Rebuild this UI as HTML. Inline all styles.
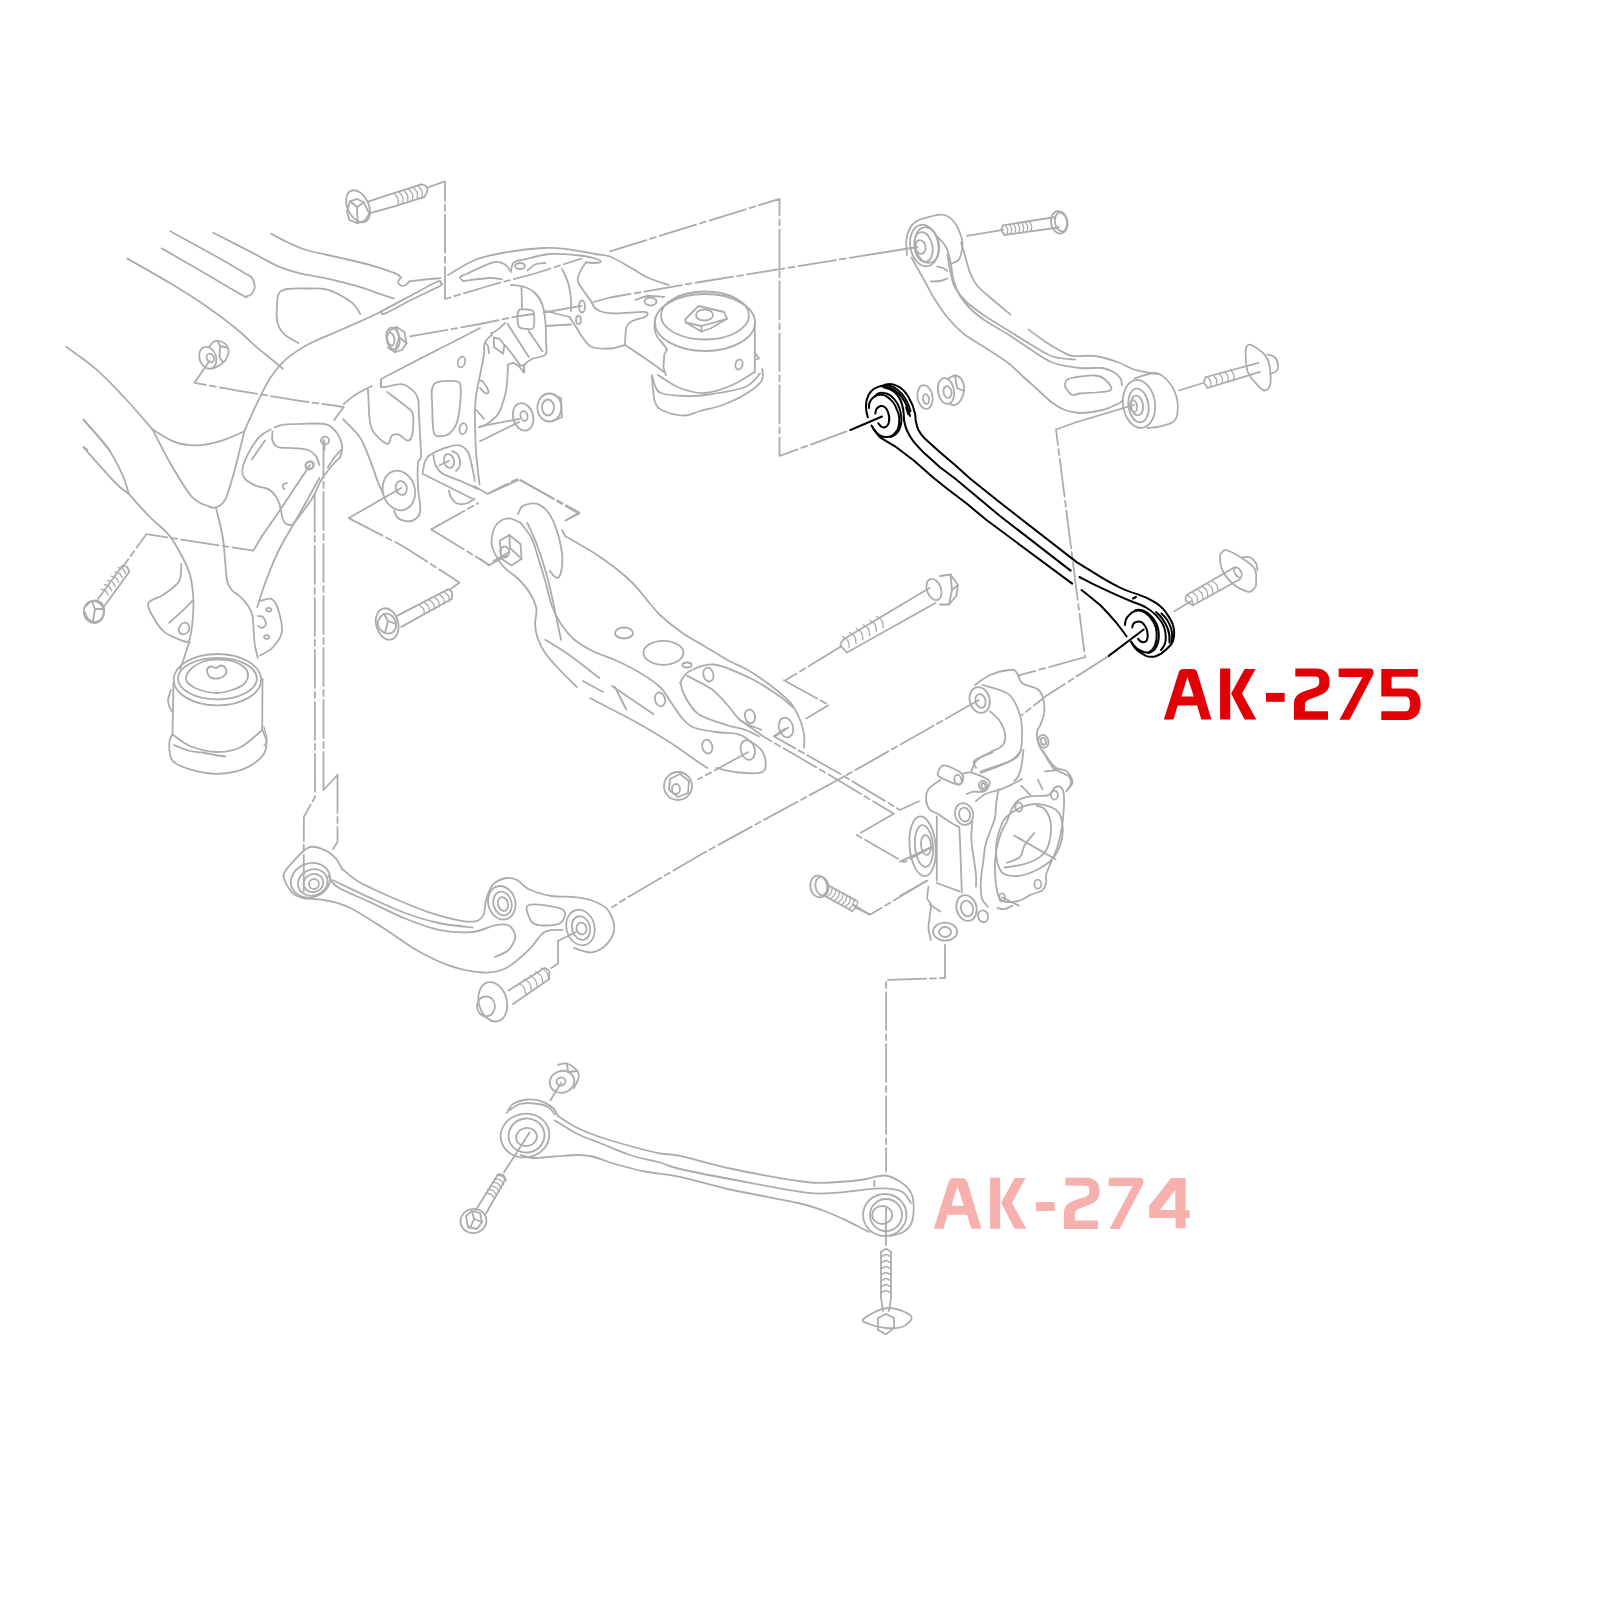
<!DOCTYPE html>
<html><head><meta charset="utf-8"><style>
html,body{margin:0;padding:0;background:#fff;}
body{width:1600px;height:1600px;overflow:hidden;font-family:"Liberation Sans",sans-serif;}
svg{display:block;}
.d{stroke-dasharray:38 4 6 4;}
.t{stroke-width:1.3;}
</style></head><body>
<svg width="1600" height="1600" viewBox="0 0 1600 1600">
<g fill="none" stroke="#acacac" stroke-width="1.8" stroke-linecap="round" stroke-linejoin="round">
<path d="M170.3,231.3 C176.9,234.9 197.5,246 210,253 C222.5,260 238.3,269.2 245.3,273.4 C252.3,277.6 250.4,275.6 252,278 C253.6,280.4 254.9,284.8 254.7,287.5 C254.5,290.2 252.3,293.1 251,294.5 C249.7,295.9 248.4,296 246.9,296.1 C245.4,296.2 249.7,299.2 242,295 C234.3,290.8 214.4,278.8 201,271 C187.6,263.2 168.2,252.2 161.7,248.4"/>
<path d="M127.3,258.6 C134.4,262.7 156.8,275.1 170,283 C183.2,290.9 195.1,298.5 206.3,306.3 C217.6,314.1 229.2,322.9 237.5,329.7 C245.8,336.5 250.9,342.2 256.3,346.9 C261.7,351.6 265.6,354.4 270,358 C274.4,361.6 280.7,366.9 282.8,368.7"/>
<path d="M213.3,232.8 C219.9,236.2 242.5,247.6 253.1,253.1 C263.6,258.6 268.8,262.2 276.6,265.6 C284.4,269 291.9,271.3 300,273.4 C308.1,275.5 315.6,276 325,278.1 C334.4,280.2 347.2,283.3 356.3,285.9 C365.4,288.5 373.4,291.7 379.7,293.8 C385.9,295.9 391.4,297.6 393.8,298.4"/>
<path d="M271.1,233.6 C273.8,235 281.6,239.5 287.5,242.2 C293.4,244.9 297.4,247.4 306.3,250 C315.2,252.6 329.7,255.2 340.6,257.8 C351.5,260.4 362.8,263 371.9,265.6 C381,268.2 390.4,271.4 395.3,273.4 C400.2,275.4 400.1,276.8 401,277.5"/>
<path d="M401,277.5 C400.5,278.2 398.4,280.2 398.2,281.5 C398,282.8 398.9,284.3 400,285 C401.1,285.7 403.4,286.1 405,285.5 C406.6,284.9 408.7,282 409.4,281.3"/>
<path d="M409.4,281.3 L425,279.5 L440.6,278.1"/>
<path d="M298.4,343 C296.1,341.6 287.9,337.9 284.4,334.4 C280.9,330.9 278.5,327.6 277.3,321.9 C276.1,316.2 276.9,305 277.3,300 C277.8,295 278.3,293.8 280,292 C281.7,290.2 283.3,289.6 287.5,289 C291.7,288.4 298.2,288.4 305,288.5 C311.8,288.6 320.9,287.9 328.1,289.8 C335.3,291.7 343.8,297.1 348.4,300 C353,302.9 354,304.7 356,307 C358,309.3 359.5,312.8 360.2,314"/>
<path d="M381.3,311.4 C386.1,308.8 400.6,301 410,296 C419.4,291 432.4,283.6 437.5,281.5 C442.6,279.4 440.1,282.6 440.5,283.3 C440.9,284.1 444.9,283.1 439.8,286 C434.7,288.9 419.2,295.9 410,300.5 C400.8,305.1 389.4,311.8 384.6,313.6 C379.8,315.4 381.9,311.8 381.3,311.4"/>
<path d="M381.3,311.4 C379.4,312.3 376.8,313.9 370,317 C363.2,320.1 350.7,325.5 340.6,330 C330.5,334.5 318.5,338.9 309.4,343.8 C300.3,348.7 292.4,353.7 285.9,359.4 C279.4,365.1 274.7,371.5 270.3,378 C265.9,384.5 263,391.1 259.4,398.4 C255.7,405.7 250.9,416.4 248.4,421.9 C245.9,427.4 245.1,429.7 244.4,431.3"/>
<path d="M480,328 C475,330.6 460.2,338.3 450,343.5 C439.8,348.7 430.3,353.5 418.8,359.4 C407.3,365.3 387.4,375.7 381.1,379"/>
<path d="M381.1,379 L381.1,387.3"/>
<path d="M371.9,386 C369.1,387.5 359.7,392 355,395 C350.3,398 345.7,402.5 343.8,404"/>
<path d="M66.3,346.9 C71.3,350.6 86.6,361 96.3,369.4 C106,377.8 115,387.5 124.4,397.5 C133.8,407.5 147.8,424.1 152.5,429.4"/>
<path d="M152.5,429.4 C156.2,431.5 167.3,439.5 175,442.2 C182.7,444.9 190.6,445.6 198.4,445.3 C206.2,445 214.2,442.9 221.9,440.6 C229.6,438.3 240.7,432.9 244.4,431.3"/>
<path d="M83.6,419.5 C86.6,423 97.3,435.5 101.6,440.6 C105.9,445.7 108.1,448.4 109.4,450"/>
<path d="M83.6,447 L87.5,450"/>
<ellipse cx="207.8" cy="357.8" rx="8.3" ry="11.2" transform="rotate(-20 207.8 357.8)"/>
<ellipse cx="210.3" cy="358" rx="3.5" ry="4.5" transform="rotate(-20 210.3 358)"/>
<path d="M209,347 C209.8,346.1 212,342.4 214,341.5 C216,340.6 218.8,340.8 221,341.5 C223.2,342.2 225.8,344.2 227,346 C228.2,347.8 228.8,350.2 228.5,352.5 C228.2,354.8 226.9,357.9 225.5,360 C224.1,362.1 222.1,363.6 220,365 C217.9,366.4 214.2,367.9 213,368.5"/>
<path d="M218,341.8 L220,346 L226.5,347.5"/>
<path d="M220,346 L219.5,357 L223,362.5"/>
<path class="d" d="M209.4,361 L194.5,382.8 L237.5,390.6 L300,400.8 L343.8,407 L332.8,421.9"/>
<ellipse cx="934" cy="589.5" rx="7" ry="11" transform="rotate(-20 934 589.5)"/>
<path d="M940,576 L950.5,574.5 L958,585 L956.5,595.5 L949,604.5 L940,604.5"/>
<path d="M950.5,574.5 L952,590 L958,585"/>
<path d="M952,590 L949,604.5"/>
<path d="M929.5,588 L844,639"/>
<path d="M935.5,603 L847,652.5"/>
<path d="M844,639 C843.4,640 840,642.8 840.5,645 C841,647.2 845.9,651.2 847,652.5"/>
<path class="t" d="M849.3,647.6 C849.1,646.5 849.1,642.7 848,640.8 C846.9,639 843.6,637.1 842.7,636.4"/>
<path class="t" d="M856.1,643.6 C855.9,642.5 855.9,638.7 854.8,636.8 C853.7,635 850.4,633.1 849.5,632.4"/>
<path class="t" d="M862.9,639.6 C862.7,638.5 862.7,634.7 861.6,632.8 C860.5,631 857.2,629.1 856.3,628.4"/>
<path class="t" d="M869.7,635.6 C869.5,634.5 869.5,630.7 868.4,628.8 C867.3,627 864,625.1 863.1,624.4"/>
<path class="t" d="M876.5,631.6 C876.3,630.5 876.3,626.7 875.2,624.8 C874.1,623 870.8,621.1 869.9,620.4"/>
<path class="t" d="M883.3,627.6 C883.1,626.5 883.1,622.7 882,620.8 C880.9,619 877.6,617.1 876.7,616.4"/>
<path class="d" d="M841,646.5 L785.5,680.3"/>
<path d="M1174.3,611.3 L1191.5,601.1"/>
<path d="M1187,594.8 L1235,567"/>
<path d="M1193,605.3 L1240.3,579"/>
<path d="M1187,594.8 C1186.8,595.7 1184.5,598.2 1185.5,600 C1186.5,601.8 1191.8,604.4 1193,605.3"/>
<path class="t" d="M1192.9,605.2 C1192.7,604.2 1192.8,600.7 1191.8,599 C1190.9,597.2 1187.9,595.5 1187.1,594.8"/>
<path class="t" d="M1197.9,602.4 C1197.7,601.4 1197.8,597.9 1196.8,596.2 C1195.9,594.4 1192.9,592.7 1192.1,592"/>
<path class="t" d="M1202.9,599.6 C1202.7,598.6 1202.8,595.1 1201.8,593.4 C1200.9,591.6 1197.9,589.9 1197.1,589.2"/>
<path class="t" d="M1207.9,596.8 C1207.7,595.8 1207.8,592.3 1206.8,590.6 C1205.9,588.8 1202.9,587.1 1202.1,586.4"/>
<path class="t" d="M1212.9,594 C1212.7,593 1212.8,589.5 1211.8,587.8 C1210.9,586 1207.9,584.3 1207.1,583.6"/>
<path class="t" d="M1217.9,591.2 C1217.7,590.2 1217.8,586.7 1216.8,585 C1215.9,583.2 1212.9,581.5 1212.1,580.8"/>
<ellipse cx="1238" cy="572.5" rx="3" ry="5.5" transform="rotate(-30 1238 572.5)"/>
<path d="M1221.5,552.8 C1222.8,551.8 1223.4,549.1 1227.5,550.5 C1231.6,551.9 1241.7,557.8 1246.3,561 C1250.9,564.2 1253.7,566 1255.3,570 C1256.9,574 1256.2,581.9 1256,585 C1255.8,588.1 1255,587.7 1253.8,588.8 C1252.5,589.9 1251.9,592.5 1248.5,591.8 C1245.1,591 1237.9,587.9 1233.5,584.3 C1229.1,580.7 1224.5,574.6 1222.3,570 C1220,565.4 1220.1,559.4 1220,556.5 C1219.9,553.6 1220.2,553.8 1221.5,552.8 Z"/>
<path d="M1242.5,557.3 C1243.8,557.3 1247.8,556.3 1250,557.3 C1252.2,558.3 1254.8,561.2 1256,563.3 C1257.2,565.4 1257.2,568.9 1257.5,570"/>
<ellipse cx="818.8" cy="886.5" rx="8.5" ry="11" transform="rotate(-10 818.8 886.5)"/>
<ellipse cx="822" cy="886.3" rx="6.5" ry="9.5" transform="rotate(-10 822 886.3)"/>
<path d="M827.5,885 L856.3,900.6"/>
<path d="M823,895 L852.5,911.3"/>
<path class="t" d="M823.3,894.8 C824,894.1 826.6,892.4 827.4,890.8 C828.3,889.2 828.5,886.1 828.7,885.2"/>
<path class="t" d="M827,896.8 C827.7,896.1 830.2,894.4 831.1,892.8 C832,891.2 832.1,888.1 832.3,887.2"/>
<path class="t" d="M830.6,898.8 C831.3,898.1 833.8,896.4 834.7,894.8 C835.6,893.2 835.7,890.1 835.9,889.2"/>
<path class="t" d="M834.2,900.8 C834.9,900.1 837.4,898.4 838.3,896.8 C839.2,895.2 839.3,892.1 839.5,891.2"/>
<path class="t" d="M837.8,902.8 C838.5,902.1 841.1,900.4 841.9,898.8 C842.8,897.2 843,894.1 843.2,893.2"/>
<path class="t" d="M841.5,904.8 C842.2,904.1 844.7,902.4 845.6,900.8 C846.5,899.2 846.6,896.1 846.8,895.2"/>
<path class="t" d="M845.1,906.8 C845.8,906.1 848.3,904.4 849.2,902.8 C850.1,901.2 850.2,898.1 850.4,897.2"/>
<path class="t" d="M848.7,908.8 C849.4,908.1 851.9,906.4 852.8,904.8 C853.7,903.2 853.8,900.1 854,899.2"/>
<path class="t" d="M852.3,910.8 C853,910.1 855.6,908.4 856.4,906.8 C857.3,905.2 857.5,902.1 857.7,901.2"/>
<path d="M854.4,906.9 L869.4,914.4"/>
<path d="M83.6,420 C87.6,424.6 101,438.3 107.5,447.5 C114,456.7 119,467.3 122.5,475 C126,482.7 127.8,490.7 128.8,493.8"/>
<path d="M83.6,447.5 C88.8,453.3 107.5,474.8 115,482.5 C122.5,490.2 126.5,491.9 128.8,493.8"/>
<path d="M128.8,493.8 C132.1,497.4 141.9,508.9 148.4,515.6 C154.9,522.3 162.6,527.6 168.1,534.2 C173.6,540.8 177.7,548.2 181.3,555 C185,561.8 188,567.4 190,574.7 C192,582 192.9,590.4 193.3,598.8 C193.7,607.2 192.9,617.7 192.2,625 C191.5,632.3 190.4,636.7 188.9,642.5 C187.4,648.3 184.9,655.6 183.4,660 C181.9,664.4 180.7,667.3 180.2,668.8"/>
<path d="M152.5,429.4 C155.6,435.3 164.7,453.8 171.3,465 C177.9,476.2 185.7,490 191.9,496.9 C198.2,503.8 204.7,504.6 208.8,506.3 C212.9,508 213.5,508.4 216.3,507.2 C219.1,505.9 222.5,505.2 225.6,498.8 C228.7,492.4 231.9,480.1 235,468.8 C238.1,457.6 242.8,437.6 244.4,431.3"/>
<path d="M216.3,509 C217.4,513.8 221.4,529.1 222.8,537.5 C224.2,545.9 224.3,552.1 225,559.4 C225.7,566.7 226.1,576.2 227.2,581.3 C228.3,586.4 229,587.1 231.6,590 C234.2,592.9 239.2,595.1 242.5,598.8 C245.8,602.4 249.5,607.5 251.3,611.9 C253.1,616.3 252.9,619.9 253.4,625 C253.9,630.1 253.8,637 254.5,642.5 C255.2,648 257.2,655.2 257.8,657.8"/>
<path d="M319.4,478 C316.2,483.8 306.6,501.3 300,513 C293.4,524.7 285.5,537.2 280,548 C274.5,558.8 270.8,568.1 267,578 C263.2,587.9 258.8,602.3 257.2,607.2"/>
<path d="M270.6,429.4 C268.7,430.6 263.1,432.8 259.4,436.9 C255.6,441 250.9,448.5 248.1,453.8 C245.3,459.1 243.1,464.8 242.5,468.8 C241.9,472.9 242.2,475.3 244.4,478.1 C246.6,480.9 251.5,483.7 255.6,485.6 C259.7,487.5 265.4,487.5 268.8,489.4 C272.2,491.3 274.4,494.1 276.3,496.9 C278.2,499.7 278.8,502.2 280,506.3 C281.2,510.4 281.9,518.2 283.8,521.3 C285.7,524.4 289.1,525.3 291.3,525 C293.5,524.7 293.5,523.8 296.9,519.4 C300.3,515 307.8,505.4 311.9,498.8 C316,492.2 317.9,485.6 321.3,480 C324.7,474.4 329.4,468.8 332.5,465 C335.6,461.2 338.8,458.8 340,457.5"/>
<path d="M272.5,431.3 C272.5,432.9 271.6,438 272.5,440.6 C273.4,443.2 274.7,445.9 278.1,447.2 C281.5,448.4 288.1,447.6 293.1,448.1 C298.1,448.6 304.4,448.8 308.1,450 C311.9,451.2 313.7,453.1 315.6,455.6 C317.5,458.1 318.8,463.4 319.4,465"/>
<path d="M251.9,459.4 L265,440.6"/>
<path d="M341,450 C339.8,451.3 336.2,455.1 334,458 C331.8,460.9 328.8,465.9 327.8,467.5"/>
<path d="M287,483 C286.5,483.2 284.6,483.3 283.8,484 C283.1,484.7 282.4,486.2 282.5,487 C282.6,487.8 284.2,488.7 284.5,489"/>
<ellipse cx="310" cy="465" rx="4" ry="3.5" transform="rotate(-30 310 465)"/>
<path d="M310,465 L276.3,515.6 L262,536"/>
<path class="d" d="M262,536 L253.4,550.6 L146.3,534.2 L122,568"/>
<ellipse cx="93.8" cy="612" rx="10" ry="11" transform="rotate(-10 93.8 612)"/>
<path d="M86,606 C87,605.2 89.7,601.7 92,601 C94.3,600.3 98,600.7 100,602 C102,603.3 103.7,606.3 104,609 C104.3,611.7 103.5,615.8 102,618 C100.5,620.2 97.3,621.8 95,622 C92.7,622.2 89.7,620.7 88,619 C86.3,617.3 85.5,613.2 85,612"/>
<path d="M92,601 L95,609 L104,609"/>
<path d="M95,609 L93,621"/>
<path d="M98,599 L122.5,565.5 L127,567 L129.5,571.5 L104,606.5"/>
<path class="t" d="M108.2,595 C107.8,594.3 106.8,591.7 105.6,590.7 C104.3,589.7 101.6,589.3 100.8,589"/>
<path class="t" d="M111.7,590.7 C111.3,590 110.3,587.4 109.1,586.4 C107.8,585.4 105.1,585 104.3,584.7"/>
<path class="t" d="M115.2,586.4 C114.8,585.7 113.8,583.1 112.6,582.1 C111.3,581.1 108.6,580.7 107.8,580.4"/>
<path class="t" d="M118.7,582.1 C118.3,581.4 117.3,578.8 116.1,577.8 C114.8,576.8 112.1,576.4 111.3,576.1"/>
<path class="t" d="M122.2,577.8 C121.8,577.1 120.8,574.5 119.6,573.5 C118.3,572.5 115.6,572.1 114.8,571.8"/>
<path class="t" d="M125.7,573.5 C125.3,572.8 124.3,570.2 123.1,569.2 C121.8,568.2 119.1,567.8 118.3,567.5"/>
<path d="M181.3,563.8 C180.9,566.7 181.9,576.2 179,581.3 C176.1,586.4 168.9,590.8 163.8,594.4 C158.7,598 150.2,599.5 148.4,603.1 C146.6,606.8 150.2,611.5 152.8,616.3 C155.4,621 159.1,627.6 163.8,631.6 C168.6,635.6 176.9,638.5 181.3,640.3 C185.7,642.1 188.6,642.1 190,642.5"/>
<path d="M169.2,622.8 C171.2,621 177.5,615.5 181.3,611.9 C185.1,608.3 190.4,602.8 192.2,601"/>
<path d="M179,628 C179.5,626.3 181.5,623.7 183,623 C184.5,622.3 187,622.8 188,624 C189,625.2 189.5,628.3 189,630 C188.5,631.7 186.5,633.5 185,634 C183.5,634.5 181,634 180,633 C179,632 178.5,629.7 179,628 Z"/>
<path d="M260,601 C261.8,600.6 268.1,597.7 271,598.8 C273.9,599.9 275.7,602 277.5,607.5 C279.3,613 282.6,625 281.9,631.6 C281.2,638.2 276.8,643 273.1,647 C269.5,651 262.2,654.2 260,655.6"/>
<ellipse cx="268.8" cy="609.7" rx="2.5" ry="1.8"/>
<ellipse cx="266.6" cy="637" rx="2.5" ry="1.8"/>
<path d="M258,616 C258.8,616.2 261.7,615.7 263,617 C264.3,618.3 266.2,622.2 266,624 C265.8,625.8 263.3,627.7 262,628 C260.7,628.3 258.7,626.3 258,626"/>
<ellipse cx="217.4" cy="679.7" rx="43.7" ry="25.7"/>
<ellipse cx="217.4" cy="678.6" rx="39.4" ry="20.8"/>
<path d="M186,678 C186.5,675.3 188.8,670.8 192,668 C195.2,665.2 200.8,662.4 205,661 C209.2,659.6 212.5,659.5 217,659.5 C221.5,659.5 227.5,659.8 232,661 C236.5,662.2 241.3,664.7 244,667 C246.7,669.3 248,672.2 248,675 C248,677.8 246.7,681.5 244,684 C241.3,686.5 236.5,688.5 232,690 C227.5,691.5 222.3,693 217,693 C211.7,693 204.7,691.5 200,690 C195.3,688.5 191.3,686 189,684 C186.7,682 185.5,680.7 186,678 Z"/>
<path d="M207,670 C207.2,668.2 209.5,666.8 211,666.5 C212.5,666.2 214.3,668.2 216,668 C217.7,667.8 219.3,665.3 221,665.5 C222.7,665.7 225.3,667.4 226,669 C226.7,670.6 226.3,673.4 225,675 C223.7,676.6 220.5,678.2 218,678.5 C215.5,678.8 211.8,678.4 210,677 C208.2,675.6 206.8,671.8 207,670 Z"/>
<path d="M173.5,683 L172.5,734.4"/>
<path d="M262.5,679 L262.2,730"/>
<path d="M172.5,734.4 C175.4,736.3 182.7,743.1 190,746 C197.3,748.9 208,751.8 216.3,752 C224.6,752.2 232.3,751.2 240,747.5 C247.7,743.8 258.5,732.9 262.2,730"/>
<path d="M172.5,734.4 C171.9,735.8 169.2,738.6 169.2,743 C169.2,747.4 169,756.2 172.5,760.6 C176,765 182.7,767.2 190,769.4 C197.3,771.6 207.6,773.8 216.3,773.8 C225.1,773.8 234.8,772.3 242.5,769.4 C250.2,766.5 258.2,760.7 262.2,756.3 C266.2,751.9 266.5,747.2 266.6,743 C266.7,738.8 263.6,733 263,731"/>
<path d="M174,745 C176.7,746 184.8,749.7 190,751 C195.2,752.3 200.8,752.3 205,753 C209.2,753.7 211.7,754.4 215,755 C218.3,755.6 223.3,756.2 225,756.5"/>
<path d="M171,690 C170.5,691.7 168.2,697 168,700 C167.8,703 169.2,706 170,708 C170.8,710 172.1,711.3 172.5,712"/>
<path class="t" d="M264,727 C264.5,729.2 267,736.8 267,740 C267,743.2 264.5,745 264,746"/>
<path class="d" d="M314.7,493.8 L315,797 L303.8,817 L303.8,891"/>
<path class="d" d="M323.5,440 L323.5,790"/>
<path d="M323.5,790 L337.5,775"/>
<path class="d" d="M337.5,775 L337.5,842 L333,849"/>
<path d="M274.4,427.5 C276,427 279.1,425.3 283.8,424.7 C288.5,424.1 295.4,423.9 302.5,423.8 C309.6,423.8 320.5,422.7 326.3,424.4 C332.1,426.1 334.9,430.1 337.5,433.8 C340.1,437.6 341.8,442.9 342.2,446.9 C342.6,450.8 340.4,455.7 340,457.5"/>
<ellipse cx="325" cy="440.6" rx="4" ry="4"/>
<ellipse cx="309.4" cy="465.6" rx="4" ry="4"/>
<path d="M324.4,441.3 L324.4,450"/>
<ellipse cx="398.9" cy="490.5" rx="16" ry="20" transform="rotate(-15 398.9 490.5)"/>
<ellipse cx="401.3" cy="488" rx="5.5" ry="7" transform="rotate(-15 401.3 488)"/>
<path d="M401.3,488 L348.8,518"/>
<path class="d" d="M348.8,518.1 L403.1,546.3 L450,576.3 L459.4,582.8 L450,589.4"/>
<path d="M369.2,415.6 C369.8,418.2 369.8,426.3 372.8,431 C375.8,435.7 383.8,443.2 387,444 C390.2,444.8 389.8,437.4 391.8,435.8 C393.8,434.2 396.3,433.8 398.9,434.6 C401.5,435.4 405,440.4 407.2,440.6 C409.4,440.8 411,440 412,435.8 C413,431.6 413.9,420.4 413.1,415.6 C412.3,410.9 411.6,411.2 407.2,407.3 C402.8,403.4 390.4,394.5 387,391.9"/>
<path d="M368,389.5 L369.2,415.6"/>
<path d="M381,380 C381.2,381.2 378.9,386.3 382.3,387 C385.7,387.7 396.2,383.6 401.3,384.2 C406.4,384.8 410.3,388.2 413.1,390.7 C415.9,393.2 417,394.9 418,399 C419,403.1 418.6,408.9 419,415.6 C419.4,422.3 420,432.5 420.3,439.4 C420.6,446.3 421.4,453.3 421,457.2 C420.6,461.1 418.5,458 418,463 C417.5,468 417.6,479.1 418,487 C418.4,494.9 420.7,505.3 420.3,510.6 C419.9,515.9 417.7,517.2 415.5,519 C413.3,520.8 410.2,521.5 407.2,521.3 C404.2,521.1 399.9,519.6 397.7,517.8 C395.5,516 394.6,511.8 394,510.6"/>
<path d="M433.3,429.9 C432.5,424.6 432.3,410.5 432.1,403.8 C431.9,397.1 431.2,393.1 432,389.5 C432.8,385.9 433,383.8 437,382.4 C441,381 452,380.4 455.9,381.2 C459.8,382 460,382.4 460.6,387.1 C461.2,391.9 460.3,403.4 459.5,409.7 C458.7,416 457.9,421 455.9,425.1 C453.9,429.2 450.8,432.8 447.6,434.6 C444.4,436.4 439.3,436.6 436.9,435.8 C434.5,435 434.1,435.2 433.3,429.9 Z"/>
<ellipse cx="463.1" cy="428.7" rx="3.5" ry="5.5" transform="rotate(10 463.1 428.7)"/>
<path d="M422.6,472.6 C423.6,469.8 423.2,460.6 428.6,456 C434,451.4 448.4,446.3 454.7,445.3 C461,444.3 463.8,447.1 466.6,450 C469.4,452.9 469.9,457.8 471.3,463 C472.7,468.2 474.3,478 474.9,481"/>
<path d="M422.6,473.8 L472.5,498.8"/>
<ellipse cx="449" cy="461" rx="5" ry="7" transform="rotate(-15 449 461)"/>
<path d="M452,451 C453,451.7 456.7,452.7 458,455 C459.3,457.3 460.3,462.3 460,465 C459.7,467.7 456.7,470 456,471"/>
<path d="M448.8,460.8 L439.3,465.5"/>
<path d="M433.3,454.8 C433.7,456.6 434.1,462.3 435.7,465.5 C437.3,468.7 438.6,471.2 442.8,473.8 C447,476.4 454.7,478.4 460.6,481 C466.6,483.6 475.5,487.9 478.5,489.3"/>
<path d="M448.8,490.5 C449.2,491.7 449.7,495.4 451.1,497.6 C452.5,499.8 454.5,502.5 457.1,503.5 C459.7,504.5 463.6,504.3 466.6,503.5 C469.6,502.7 473.5,499.6 474.9,498.8"/>
<path d="M343,419.2 C345.8,422.2 355.1,430.1 359.7,437 C364.3,443.9 367.4,453.5 370.4,460.8 C373.4,468.1 375.3,475.5 377.5,481 C379.7,486.5 382.4,491.8 383.4,494"/>
<path d="M480,426.3 L519,419"/>
<path d="M480,441.3 L519,422"/>
<ellipse cx="523.1" cy="416.9" rx="10" ry="14" transform="rotate(-15 523.1 416.9)"/>
<ellipse cx="524" cy="416" rx="3.5" ry="5" transform="rotate(-15 524 416)"/>
<ellipse cx="549.4" cy="407.5" rx="12" ry="14"/>
<ellipse cx="548" cy="407.5" rx="6" ry="8"/>
<path d="M552,394 L561,398 L562,417 L553,421"/>
<path class="d" d="M431.3,529.4 L478.1,503.1"/>
<path class="d" d="M431.3,529.4 L489.4,565 L506.3,555.6"/>
<path class="d" d="M474.4,486.3 L487.5,493.8 L517.5,478.8 L579.4,512.5 L566.3,520"/>
<ellipse cx="387.2" cy="624" rx="11" ry="16" transform="rotate(-15 387.2 624)"/>
<path d="M378,621 C378.8,618.7 381.7,614.8 384,614 C386.3,613.2 390,614.3 392,616 C394,617.7 395.8,621.3 396,624 C396.2,626.7 394.8,630.5 393,632 C391.2,633.5 387.3,633.7 385,633 C382.7,632.3 380.2,630 379,628 C377.8,626 377.2,623.3 378,621 Z"/>
<path d="M384,614 L388,621 L396,624"/>
<path d="M388,621 L385,633"/>
<path d="M397.5,615.6 L448,589.4"/>
<path d="M401.3,626.9 L451.9,598.8"/>
<path d="M448,589.4 C448.7,589.8 451.4,590.4 452,592 C452.6,593.6 451.9,597.7 451.9,598.8"/>
<path class="t" d="M424.4,614.7 C424.3,613.8 424.5,610.7 423.6,609.1 C422.8,607.6 420.2,605.9 419.6,605.3"/>
<path class="t" d="M429.4,612.1 C429.3,611.2 429.5,608.1 428.6,606.5 C427.8,605 425.2,603.3 424.6,602.7"/>
<path class="t" d="M434.4,609.5 C434.3,608.6 434.5,605.5 433.6,603.9 C432.8,602.4 430.2,600.7 429.6,600.1"/>
<path class="t" d="M439.4,606.9 C439.3,606 439.5,602.9 438.6,601.3 C437.8,599.8 435.2,598.1 434.6,597.5"/>
<path class="t" d="M444.4,604.3 C444.3,603.4 444.5,600.3 443.6,598.7 C442.8,597.2 440.2,595.5 439.6,594.9"/>
<path class="t" d="M449.4,601.7 C449.3,600.8 449.5,597.7 448.6,596.1 C447.8,594.6 445.2,592.9 444.6,592.3"/>
<path d="M520.5,522.8 C518.6,522 513,518.3 509.3,518.3 C505.6,518.3 500.8,520.2 498,522.8 C495.2,525.4 493.3,529.9 492.4,534 C491.5,538.1 490.7,542.2 492.4,547.5 C494.1,552.8 498.2,560.2 502.5,565.5 C506.8,570.8 513.8,574.5 518.3,579 C522.8,583.5 526.5,587.6 529.5,592.5 C532.5,597.4 535.4,603 536.3,608.3 C537.2,613.5 534.9,619.1 535.1,624 C535.3,628.9 535.7,632.6 537.4,637.5 C539.1,642.4 541.7,648 545.3,653.3 C548.9,658.5 553.5,663.4 558.8,669 C564,674.6 573.8,684 576.8,687"/>
<path d="M590.3,698.3 C598.2,702.4 624,715.5 637.5,723 C651,730.5 661.9,737.3 671.3,743.3 C680.7,749.3 687.8,754.9 693.8,759 C699.8,763.1 705,766.5 707.3,768"/>
<path d="M518,514 C518.8,512.6 519.8,507.6 522.8,505.9 C525.8,504.2 532.2,502.7 536.3,503.6 C540.4,504.5 544.1,507.2 547.5,511.5 C550.9,515.8 554.1,522.4 556.5,529.5 C558.9,536.6 561.4,547.2 562.1,554.3 C562.9,561.4 561.9,568.4 561,572.3 C560.1,576.2 558.4,578.1 556.5,577.9 C554.6,577.7 550.9,572.1 549.8,571"/>
<path d="M565.5,536.3 C570,538.9 584.2,546.8 592.5,552 C600.8,557.2 608.2,562.5 615,567.8 C621.8,573 627.8,578.2 633,583.5 C638.2,588.8 642,594 646.5,599.3 C651,604.5 654,609.4 660,615 C666,620.6 675,627.8 682.5,633 C690,638.2 697.5,642 705,646.5 C712.5,651 720,655.9 727.5,660 C735,664.1 742.5,666.8 750,671.3 C757.5,675.8 765.8,681.8 772.5,687 C779.2,692.2 786,697.5 790.5,702.8 C795,708 797.2,713.2 799.5,718.5 C801.8,723.8 803.2,729.4 804,734.3 C804.8,739.2 804,745.5 804,747.8"/>
<path d="M565.5,536.3 L562,530"/>
<path d="M520.5,522.8 C522.4,525.4 528.8,532.5 531.8,538.5 C534.8,544.5 536.2,551.7 538.5,558.8 C540.8,565.9 543,573.4 545.3,581.3 C547.5,589.2 549.4,598.9 552,606 C554.6,613.1 557.2,618.4 561,624 C564.8,629.6 569.2,635.3 574.5,639.8 C579.8,644.3 585.8,647.6 592.5,651 C599.2,654.4 607.5,656.6 615,660 C622.5,663.4 630,666.8 637.5,671.3 C645,675.8 654.4,681.8 660,687 C665.6,692.2 667.5,697.5 671.3,702.8 C675,708 678.8,714.4 682.5,718.5 C686.2,722.6 688.2,725.2 693.8,727.5 C699.4,729.8 708.8,730.9 716.3,732 C723.8,733.1 733.2,732.8 738.8,734.3 C744.4,735.8 746.2,738.4 750,741 C753.8,743.6 758.7,746.2 761.3,750 C763.9,753.8 765.8,759.8 765.8,763.5 C765.8,767.2 765.8,771 761.3,772.5 C756.8,774 746.3,773.2 738.8,772.5 C731.3,771.8 720,768.8 716.3,768"/>
<path d="M527.3,522.8 C528.8,526.2 533.3,535.1 536.3,543 C539.3,550.9 542.7,561 545.3,570 C547.9,579 549.4,585.4 552,597 C554.6,608.6 559.5,632.7 561,639.8"/>
<path d="M545.3,639.8 C549.4,642.4 561,649.1 570,655.5 C579,661.9 594.4,674.2 599.3,678"/>
<path d="M615,687 L626.3,709.5"/>
<path d="M612,686 L653.3,714"/>
<path class="d" d="M583,681 L603,692"/>
<ellipse cx="624" cy="633" rx="9" ry="5.5"/>
<ellipse cx="663.4" cy="652.8" rx="20" ry="12"/>
<ellipse cx="687" cy="665" rx="4.5" ry="2.5"/>
<ellipse cx="660" cy="699.4" rx="5" ry="7" transform="rotate(-15 660 699.4)"/>
<ellipse cx="708.4" cy="674.6" rx="5" ry="7" transform="rotate(-15 708.4 674.6)"/>
<ellipse cx="750" cy="716.3" rx="5" ry="7" transform="rotate(-15 750 716.3)"/>
<ellipse cx="707.3" cy="746.6" rx="5" ry="7" transform="rotate(-15 707.3 746.6)"/>
<ellipse cx="747.8" cy="750" rx="7" ry="10" transform="rotate(-15 747.8 750)"/>
<ellipse cx="786" cy="727.5" rx="7" ry="10" transform="rotate(-15 786 727.5)"/>
<path d="M680.3,682.5 C681.8,680.6 683.7,674.3 689.3,671.3 C694.9,668.3 703.9,663.4 714,664.5 C724.1,665.6 739.1,672.8 750,678 C760.9,683.2 772.2,691.1 779.3,696 C786.4,700.9 790.5,705.4 792.8,707.3"/>
<path d="M680.3,682.5 C681,684.8 681.8,690.8 684.8,696 C687.8,701.2 691.2,709.1 698.3,714 C705.4,718.9 719.6,722.7 727.5,725.3 C735.4,727.9 740.2,727.9 745.5,729.8 C750.8,731.7 756.8,735.4 759,736.5"/>
<path d="M687,675.8 C691.1,678 705,684.4 711.8,689.3 C718.5,694.2 722.6,699.8 727.5,705 C732.4,710.2 735.4,716.7 741,720.8 C746.6,724.9 757.9,728.3 761.3,729.8"/>
<path d="M499.8,540.8 L509.3,535 L520.5,544 L521.6,558.8 L511.5,565.5 L501.4,558.8 Z"/>
<path d="M509.3,535 L510,548 L521.6,558.8"/>
<ellipse cx="504.8" cy="552" rx="4.5" ry="5.5"/>
<path d="M493.5,561 L509.3,552"/>
<path class="d" d="M480,558.8 L489,565.5"/>
<path class="d" d="M489,493.5 L518.3,480"/>
<path class="d" d="M520.5,480 L579,513.8 L565.5,520.5"/>
<path class="d" d="M747.8,752.3 L698.3,779.3"/>
<path class="d" d="M788.3,727.5 L774.8,736.5"/>
<path class="d" d="M783.8,680.3 L828.8,705 L806.3,718.5"/>
<path class="d" d="M785,728.8 L773.8,736.3 L840,773.8 L900,810 L918.8,801.3"/>
<path class="d" d="M740,720 L765,737.5 L833.8,777.5 L893.8,813.8"/>
<ellipse cx="678" cy="786" rx="14" ry="14"/>
<path d="M670,779 L680,774 L689,781 L688,793 L678,797 L669,790 Z"/>
<ellipse cx="676" cy="789" rx="4" ry="5"/>
<ellipse cx="358.1" cy="206.3" rx="10.5" ry="17" transform="rotate(-25 358.1 206.3)"/>
<path d="M346.9,211.3 L350,201.3 L356.9,198.8 L363.8,202.5 L369.4,213.8 L365,220.6 L357.5,223.1 L349.4,220 Z"/>
<path d="M350,201.3 L357,207 L363.8,202.5"/>
<path d="M357,207 L357.5,223.1"/>
<path d="M368.8,201.3 L393.8,193.1 L421.3,184.4"/>
<path d="M370,213.1 L394.4,206.3 L424.4,196.9"/>
<path d="M421.3,184.4 C422.1,184.7 425,185 426,186 C427,187 427.8,188.7 427.5,190.5 C427.2,192.3 424.9,195.8 424.4,196.9"/>
<path class="t" d="M397.9,205.5 C397.9,204.4 398.7,200.8 398.1,198.8 C397.5,196.8 394.8,194.4 394.1,193.5"/>
<path class="t" d="M402.7,204 C402.7,202.9 403.5,199.3 402.9,197.3 C402.3,195.3 399.6,192.9 398.9,192"/>
<path class="t" d="M407.5,202.5 C407.5,201.4 408.3,197.8 407.7,195.8 C407.1,193.8 404.4,191.4 403.7,190.5"/>
<path class="t" d="M412.3,201 C412.3,199.9 413.1,196.3 412.5,194.3 C411.9,192.3 409.2,189.9 408.5,189"/>
<path class="t" d="M417.1,199.5 C417.1,198.4 417.9,194.8 417.3,192.8 C416.7,190.8 414,188.4 413.3,187.5"/>
<path class="t" d="M421.9,198 C421.9,196.9 422.7,193.3 422.1,191.3 C421.5,189.3 418.8,186.9 418.1,186"/>
<path class="d" d="M427.5,187.5 L445,181.3 L445,299 L490,285.5 L535,273.5 L581.5,258.5"/>
<path class="d" d="M610,251.3 L779.5,198.8 L779.5,456 L850.5,430"/>
<path d="M448,275 C452.5,272.5 465.5,263.8 475,260 C484.5,256.2 493.8,254.5 505,252.5 C516.2,250.5 532.5,248.6 542.5,248 C552.5,247.4 556.2,247.8 565,248.8 C573.8,249.8 587.5,252.7 595,254 C602.5,255.3 604.2,254.3 610,256.5 C615.8,258.7 623.2,263.5 629.5,267 C635.8,270.5 641,274.5 647.5,277.5 C654,280.5 665,283.8 668.5,285"/>
<path d="M463,281 C462.5,280.3 459.2,278.2 460,277 C460.8,275.8 462,275.9 467.5,273.5 C473,271.1 486.8,263.8 493,262.3 C499.2,260.8 502,262.9 505,264.5 C508,266.1 510,270.8 511,272"/>
<path d="M463,281 C467.5,280.5 483.5,278.2 490,278 C496.5,277.8 500,279.2 502,279.5"/>
<path d="M511,270.5 C511.5,269.1 511.8,264.2 514,262.3 C516.2,260.4 518.5,260.7 524.5,259.3 C530.5,257.9 540.8,254.6 550,254 C559.2,253.4 572.5,254.8 580,255.5 C587.5,256.2 591.5,257.5 595,258.5 C598.5,259.5 601,260.8 601,261.5 C601,262.2 597.5,262.9 595,263 C592.5,263.1 587.5,262.4 586,262.3"/>
<ellipse cx="520" cy="266" rx="5" ry="3"/>
<path d="M527.5,270.5 C528.8,269.5 532,265.8 535,264.5 C538,263.2 543.8,263.2 545.5,263"/>
<path d="M586,262.3 C585,263.9 581.4,268.9 580,272 C578.6,275.1 577.3,278 577.8,281 C578.3,284 580.9,286.8 583,290 C585.1,293.2 588.5,297.5 590.5,300.5 C592.5,303.5 593,306.1 595,308 C597,309.9 598.8,311.1 602.5,312 C606.2,312.9 610.5,313.5 617.5,313.5 C624.5,313.5 639.8,311.5 644.5,312 C649.2,312.5 648,315 646,316.5 C644,318 635.8,319.2 632.5,321 C629.2,322.8 627.8,323 626.5,327 C625.2,331 625.2,342 625,345"/>
<path class="d" d="M593.5,302 L610,297.5 L700,282 L880,253"/>
<path d="M562,269 C563,271.2 566.5,277.5 568,282.5 C569.5,287.5 570.5,294.2 571,299 C571.5,303.8 571,309 571,311"/>
<path d="M569.5,317 C570.5,318.5 573.2,322.5 575.5,326 C577.8,329.5 580.2,334.5 583,338 C585.8,341.5 587.5,345.2 592,347 C596.5,348.8 604.5,348.8 610,348.5 C615.5,348.2 622.5,345.6 625,345"/>
<path d="M625,345 C628.8,347.5 641,355.5 647.5,360 C654,364.5 661.2,370 664,372"/>
<ellipse cx="578.5" cy="320" rx="2.5" ry="4"/>
<path d="M545.5,311 L569.5,317"/>
<path d="M545.5,326 L571,324.5"/>
<path d="M544,312.5 L581.5,305.8"/>
<ellipse cx="582" cy="306.5" rx="3" ry="6"/>
<path d="M511,284.8 C513.2,285.2 520.5,285.6 524.5,287 C528.5,288.4 532,290 535,293 C538,296 540.8,300 542.5,305 C544.2,310 544.9,316.8 545.5,323 C546.1,329.2 546,337.2 546,342.5 C546,347.8 547.8,351.8 545.5,354.5 C543.2,357.2 535.5,357.2 532,359 C528.5,360.8 525.8,362.9 524.5,365 C523.2,367.1 524.5,370.7 524.5,371.8"/>
<path d="M521.5,287 L522,309.5"/>
<path d="M518.5,311 C519.9,308.2 524.3,309.3 526.8,309.5 C529.3,309.7 532.4,309 533.5,312 C534.6,315 534.6,324.7 533.5,327.5 C532.4,330.3 529.3,329.2 526.8,329 C524.3,328.8 519.9,329 518.5,326 C517.1,323 517.1,313.8 518.5,311 Z"/>
<path d="M507.5,323.8 L528.8,356.9"/>
<path d="M528.8,331.3 L542.5,351.3"/>
<path d="M491.3,333.8 C492.4,333.1 495.7,331.2 498,329.4 C500.3,327.6 503.8,324.1 505,323"/>
<path d="M493.8,337.5 L499.4,338.8 L504.4,345 L503.1,353.8 L493.8,346.9 Z"/>
<path d="M505,345 C506.5,346.9 511.3,353 513.8,356.3 C516.3,359.6 518.3,363.4 520,365 C521.7,366.6 523.3,364.4 523.8,365.6 C524.3,366.9 523.2,371.4 523.1,372.5"/>
<path d="M507.5,365.6 C507.7,365.4 507.8,364.8 508.8,364.4 C509.9,364 511.9,362.6 513.8,363.1 C515.7,363.6 518.3,365.9 520,367.5 C521.7,369.1 523.2,371.7 523.8,372.5"/>
<path d="M485,342.5 C485.5,343.1 487.5,344.5 488.1,346.3 C488.7,348.1 488.7,352 488.8,353.1"/>
<path class="d" d="M410,336.4 L480.1,324 L520,315.8 L533.5,314"/>
<ellipse cx="461.5" cy="362" rx="3.5" ry="5.5" transform="rotate(15 461.5 362)"/>
<path d="M491.3,332.5 C491.4,332.9 492.3,334.2 491.9,335 C491.5,335.8 489.9,336.2 488.8,337.5 C487.7,338.8 485.8,340.8 485,342.5 C484.2,344.2 483.9,345.9 483.8,347.5 C483.7,349.1 484.6,349.4 484.4,351.9 C484.2,354.4 483.3,358.1 482.5,362.5 C481.7,366.9 480.3,373.3 479.4,378 C478.5,382.7 477.5,386.9 476.9,390.6 C476.3,394.3 475.9,395.8 475.6,400 C475.3,404.2 474.8,407.1 474.9,415.6 C475,424.2 475.2,439.8 476,451.3 C476.8,462.8 479,479 479.6,484.5"/>
<path d="M508.1,365 C508,366.7 507.9,370.5 507.5,375 C507.1,379.5 507.3,385.6 505.8,392 C504.3,398.4 501.8,408 498.6,413.3 C495.4,418.6 490.2,421.6 486.8,424 C483.4,426.4 479.9,426.9 478.5,427.5"/>
<path d="M479.5,380 C480.2,380.5 482.5,381 484,383 C485.5,385 488.3,390.3 488.5,392 C488.7,393.7 486.4,393.7 485,393 C483.6,392.3 480.8,388.8 480,388"/>
<path d="M476.5,410 L484,419"/>
<ellipse cx="393" cy="338.5" rx="6.5" ry="11" transform="rotate(-10 393 338.5)"/>
<path d="M389.4,331 L396.3,326.8 L404.5,332.3 L406.6,343.3 L401.8,350 L394.9,352.2 L388,347.4"/>
<ellipse cx="390.8" cy="339.1" rx="3.5" ry="6.5" transform="rotate(-10 390.8 339.1)"/>
<path d="M396.3,326.8 L399,337 L406.6,343.3"/>
<path d="M399,337 L394.9,352.2"/>
<ellipse cx="650.5" cy="301.5" rx="6" ry="4"/>
<path d="M635.5,300 C637.6,299.3 643.2,296.5 648,296 C652.8,295.5 661.3,296.8 664,297"/>
<ellipse cx="705" cy="322.5" rx="50" ry="28.5"/>
<ellipse cx="705" cy="315.5" rx="44" ry="24"/>
<path d="M685,319.5 L698.5,306 L724,312 L727,318.8 L710.5,328.5 L701.5,331.5 L685.8,322.5 Z"/>
<path d="M685.8,322.5 L701.5,326 L727,318.8"/>
<path d="M701.5,326 L701.5,331.5"/>
<ellipse cx="704.5" cy="315" rx="8.5" ry="5.5"/>
<path d="M655,318 C654.9,319.8 654.2,325.9 654.6,329 C655,332.1 655.5,334 657.3,336.9 C659,339.8 663.5,344.3 665.1,346.5 C666.7,348.7 666.6,349.4 666.9,350"/>
<path d="M754.8,322.5 L754.8,372"/>
<path d="M658,375 C661.7,377.2 672.2,385 680,388 C687.8,391 696.2,393.3 704.5,393 C712.8,392.7 721.6,389.5 730,386 C738.4,382.5 750.7,374.3 754.8,372"/>
<path d="M652,375 C652.5,376.8 653.5,382.5 655,385.5 C656.5,388.5 656,391.2 661,393 C666,394.8 677,395.8 685,396 C693,396.2 699,396 709,394.5 C719,393 736.5,390.5 745,387 C753.5,383.5 757.5,375.8 760,373.5"/>
<path d="M652,377 C652.5,381.2 653,396.3 655,402 C657,407.7 659,408.8 664,411 C669,413.2 679,415.5 685,415.5 C691,415.5 693.8,412.8 700,411 C706.2,409.2 715,407.8 722.5,405 C730,402.2 738.5,398.5 745,394.5 C751.5,390.5 758.6,385.2 761.5,381 C764.4,376.8 762.2,371 762.3,369"/>
<ellipse cx="739" cy="364.5" rx="3.5" ry="5" transform="rotate(15 739 364.5)"/>
<path d="M666.9,350 L664.3,354.4 L663.4,367.5 L666,375.4"/>
<path d="M754.8,352.5 L759,358.5 L754.8,360"/>
<path d="M907,255 C906.9,252.5 905.8,244.5 906.3,240 C906.8,235.5 908.4,231.1 910,228 C911.6,224.9 913.5,223.2 916,221.5 C918.5,219.8 921.2,219.1 925,218 C928.8,216.9 934.8,215.1 938.5,214.8 C942.2,214.5 944.8,214.9 947.5,216.3 C950.2,217.7 953,220.4 955,223 C957,225.6 958.2,228.8 959.5,232 C960.8,235.2 962.2,238.8 962.5,242.5 C962.8,246.2 961.8,251.5 961,254.5 C960.2,257.5 959.5,259 958,260.5 C956.5,262 953,263 952,263.5"/>
<ellipse cx="924.3" cy="245.5" rx="14" ry="21" transform="rotate(-10 924.3 245.5)"/>
<ellipse cx="923.5" cy="247" rx="9" ry="15" transform="rotate(-10 923.5 247)"/>
<ellipse cx="920.5" cy="247" rx="5" ry="7" transform="rotate(-10 920.5 247)"/>
<ellipse cx="927" cy="245" rx="12" ry="18" transform="rotate(-10 927 245)"/>
<path d="M880,253 L917.5,247"/>
<path d="M911.5,257.5 C912.8,259.8 916.8,267 919,271 C921.2,275 922.5,277 925,281.5 C927.5,286 930.2,292 934,298 C937.8,304 942.5,311.5 947.5,317.5 C952.5,323.5 957.8,329 964,334 C970.2,339 977.8,342.8 985,347.5 C992.2,352.2 1001.2,357.8 1007.5,362.5 C1013.8,367.2 1017.5,371.5 1022.5,376 C1027.5,380.5 1032.5,385 1037.5,389.5 C1042.5,394 1047.9,399.6 1052.5,403 C1057.1,406.4 1060.4,408.3 1065,410 C1069.6,411.7 1073.8,413 1080,413 C1086.2,413 1096.2,411.5 1102.5,410 C1108.8,408.5 1114.2,405.5 1117.5,404 C1120.8,402.5 1121.2,401.5 1122,401"/>
<path d="M937,236.5 C938.5,238.2 943.8,242.8 946,247 C948.2,251.2 949.2,256.5 950.5,262 C951.8,267.5 952,274.5 953.5,280 C955,285.5 956.8,290.2 959.5,295 C962.2,299.8 965.8,304.2 970,308.5 C974.2,312.8 978.8,316.2 985,320.5 C991.2,324.8 1000,329.2 1007.5,334 C1015,338.8 1022.5,344.2 1030,349 C1037.5,353.8 1044.2,359.3 1052.5,362.5 C1060.8,365.7 1071.7,367.1 1080,368 C1088.3,368.9 1096.8,367.2 1102.5,368 C1108.2,368.8 1111.5,370.8 1114.5,372.5 C1117.5,374.2 1119.2,376.4 1120.5,378.5 C1121.8,380.6 1121.8,383.9 1122,385"/>
<path d="M947.5,254.5 C948,257.5 949.2,267 950.5,272.5 C951.8,278 952.2,282.5 955,287.5 C957.8,292.5 962,297.8 967,302.5 C972,307.2 978.2,311.4 985,316 C991.8,320.6 1000,325.3 1007.5,330 C1015,334.7 1022.5,339.6 1030,344 C1037.5,348.4 1045,353.9 1052.5,356.5 C1060,359.1 1071.2,359 1075,359.5"/>
<path d="M961,242.5 C961.8,245 964,252.5 965.5,257.5 C967,262.5 968,267.8 970,272.5 C972,277.2 973.8,281.5 977.5,286 C981.2,290.5 987,294.8 992.5,299.5 C998,304.2 1007.5,312 1010.5,314.5"/>
<path d="M1028.5,329.5 C1031.2,331.5 1039.8,338 1045,341.5 C1050.2,345 1055.4,348.1 1060,350.5 C1064.6,352.9 1066.7,355.1 1072.5,356 C1078.3,356.9 1087.5,355 1095,356 C1102.5,357 1111,359.8 1117.5,362 C1124,364.2 1129,367.8 1134,369.5 C1139,371.2 1143.5,371.8 1147.5,372.5 C1151.5,373.2 1156.2,373.8 1158,374"/>
<path d="M931,281.5 C932.5,281.4 937.2,281.5 940,281 C942.8,280.5 946.2,278.9 947.5,278.5"/>
<path d="M937,266.5 C938,266.8 941.2,267.2 943,268 C944.8,268.8 946.8,270.5 947.5,271"/>
<path d="M1065,384.5 C1065.5,382.8 1064.5,380 1069.5,378.5 C1074.5,377 1089,375.2 1095,375.5 C1101,375.8 1103,377.5 1105.5,380 C1108,382.5 1114.2,388.2 1110,390.5 C1105.8,392.8 1086.2,392.8 1080,393.5 C1073.8,394.2 1074.8,395.8 1072.5,395 C1070.2,394.2 1067.8,390.8 1066.5,389 C1065.2,387.2 1064.5,386.2 1065,384.5 Z"/>
<ellipse cx="1059.3" cy="222.3" rx="8.3" ry="11.3" transform="rotate(-10 1059.3 222.3)"/>
<ellipse cx="1061" cy="222" rx="6" ry="9.5" transform="rotate(-10 1061 222)"/>
<path d="M1055.5,217 L1003,225.3"/>
<path d="M1058.5,227.5 L1004.5,235"/>
<path d="M1003,225.3 C1002.8,226.1 1001.2,228.4 1001.5,230 C1001.8,231.6 1004,234.2 1004.5,235"/>
<path class="t" d="M1006.7,234.7 C1006.9,233.9 1008,231.2 1007.7,229.5 C1007.5,227.9 1005.7,225.6 1005.3,224.9"/>
<path class="t" d="M1010.7,234.2 C1010.9,233.3 1012,230.6 1011.7,229 C1011.5,227.3 1009.7,225.1 1009.3,224.3"/>
<path class="t" d="M1014.7,233.6 C1014.9,232.7 1016,230 1015.7,228.4 C1015.5,226.7 1013.7,224.5 1013.3,223.7"/>
<path class="t" d="M1018.7,233 C1018.9,232.1 1020,229.4 1019.7,227.8 C1019.5,226.1 1017.7,223.9 1017.3,223.1"/>
<path class="t" d="M1022.7,232.4 C1022.9,231.5 1024,228.9 1023.7,227.2 C1023.5,225.6 1021.7,223.3 1021.3,222.5"/>
<path class="t" d="M1026.7,231.8 C1026.9,231 1028,228.3 1027.7,226.6 C1027.5,225 1025.7,222.7 1025.3,221.9"/>
<path class="t" d="M1030.7,231.2 C1030.9,230.4 1032,227.7 1031.7,226 C1031.5,224.4 1029.7,222.1 1029.3,221.4"/>
<path class="d" d="M1003,229.8 L967,235.8"/>
<ellipse cx="925" cy="397" rx="7.5" ry="12" transform="rotate(-10 925 397)"/>
<ellipse cx="926" cy="399" rx="3" ry="5" transform="rotate(-10 926 399)"/>
<ellipse cx="946" cy="391" rx="8" ry="13" transform="rotate(-10 946 391)"/>
<ellipse cx="947.5" cy="392" rx="4" ry="6" transform="rotate(-10 947.5 392)"/>
<path d="M948,379 C949.2,378.4 952.7,375.3 955,375.5 C957.3,375.7 960.5,377.4 962,380 C963.5,382.6 964.2,387.7 964,391 C963.8,394.3 962.5,397.7 961,400 C959.5,402.3 956.8,404.3 955,405 C953.2,405.7 950.8,404.2 950,404"/>
<path d="M955,375.5 L957,388 L964,391"/>
<ellipse cx="1139" cy="404" rx="16" ry="24" transform="rotate(-8 1139 404)"/>
<ellipse cx="1138.5" cy="405.5" rx="10" ry="17" transform="rotate(-8 1138.5 405.5)"/>
<ellipse cx="1137" cy="405.5" rx="6" ry="10" transform="rotate(-8 1137 405.5)"/>
<ellipse cx="1133.5" cy="406" rx="3.5" ry="6" transform="rotate(-8 1133.5 406)"/>
<path d="M1134,378.5 C1137.5,377.6 1149.5,372.8 1155,373 C1160.5,373.2 1163.5,376.3 1167,380 C1170.5,383.7 1174.2,389.5 1176,395 C1177.8,400.5 1178,408.5 1177.5,413 C1177,417.5 1176,419.8 1173,422 C1170,424.2 1163.8,425.5 1159.5,426.5 C1155.2,427.5 1149.5,427.8 1147.5,428"/>
<path d="M1134,404.8 L1077,422"/>
<path class="d" d="M1077,422 L1056,429.5 L1085,657"/>
<path d="M1179,390.5 L1203,383"/>
<path d="M1206,377 L1258.5,362.8"/>
<path d="M1207.5,388 L1260,371.8"/>
<path d="M1206,377 C1205.7,377.8 1203.8,380.2 1204,382 C1204.2,383.8 1206.9,387 1207.5,388"/>
<path class="t" d="M1210.5,387.3 C1210.6,386.3 1211.4,383.2 1210.8,381.5 C1210.3,379.7 1208,377.5 1207.5,376.7"/>
<path class="t" d="M1216.3,385.6 C1216.3,384.6 1217.1,381.5 1216.6,379.8 C1216.1,378 1213.8,375.8 1213.2,375"/>
<path class="t" d="M1222,383.9 C1222.1,383 1222.9,379.9 1222.3,378.1 C1221.8,376.4 1219.5,374.2 1219,373.4"/>
<path class="t" d="M1227.8,382.3 C1227.8,381.3 1228.6,378.2 1228.1,376.4 C1227.6,374.7 1225.3,372.5 1224.7,371.7"/>
<path class="t" d="M1233.5,380.6 C1233.6,379.6 1234.4,376.5 1233.8,374.8 C1233.3,373 1231,370.8 1230.5,370"/>
<path d="M1246.5,347 C1247.6,345 1249,343.5 1252.5,345.5 C1256,347.5 1264.5,352.8 1267.5,359 C1270.5,365.2 1271,377.8 1270.5,383 C1270,388.2 1266.8,390.2 1264.5,390.5 C1262.2,390.8 1259.8,387.5 1257,384.5 C1254.2,381.5 1249.9,377 1248,372.5 C1246.1,368 1246,361.8 1245.8,357.5 C1245.5,353.2 1245.4,349 1246.5,347 Z"/>
<path d="M1267.5,354.5 C1268.8,355 1273.2,355.8 1275,357.5 C1276.8,359.2 1277.8,362.8 1278,365 C1278.2,367.2 1277.8,369.5 1276.5,371 C1275.2,372.5 1271.1,373.5 1270,374"/>
<path class="d" d="M1085.6,657 L1018,675.6"/>
<path class="d" d="M1108.7,655.9 L1046,696 L1022,715"/>
<path class="d" d="M978.8,700 L840,778.8 L762,821 L700,855 L630,896 L612,907.3"/>
<path class="d" d="M893.8,813.8 L856.9,835 L903.8,862.2 L931.9,847.2"/>
<path class="d" d="M926.3,881 L870,914.7 L853,904.4"/>
<ellipse cx="979.7" cy="700" rx="10" ry="13" transform="rotate(-15 979.7 700)"/>
<ellipse cx="980.5" cy="701" rx="5" ry="7" transform="rotate(-15 980.5 701)"/>
<path d="M975,685 C977.5,683.3 984.4,677.5 990,675 C995.6,672.5 1004.4,670.5 1008.8,670 C1013.2,669.5 1014.1,669.8 1016.3,672 C1018.5,674.2 1018.5,680.2 1022,683 C1025.5,685.8 1033.6,686.6 1037,688.8 C1040.4,691 1041.3,692.5 1042.5,696.3 C1043.7,700 1044.7,706.6 1044.4,711.3 C1044.1,716 1041.8,720.9 1040.6,724.4 C1039.4,727.9 1037.3,728.6 1037,732 C1036.7,735.4 1037.2,741 1038.8,745 C1040.3,749 1043.5,752.5 1046.3,756.3 C1049.1,760 1052.2,765 1055.6,767.5 C1059,770 1064.1,768.8 1066.9,771.3 C1069.7,773.8 1072.5,779.4 1072.5,782.5 C1072.5,785.6 1067.8,788.8 1066.9,790"/>
<path d="M990,711.3 C991.6,712.8 996.9,716.9 999.4,720.6 C1001.9,724.4 1004.4,729.7 1005,733.8 C1005.6,737.9 1005.5,741.9 1003,745 C1000.5,748.1 994.4,750 990,752.5 C985.6,755 980,756.9 976.9,760 C973.8,763.1 972.2,769.4 971.3,771.3"/>
<path d="M982.5,685 C986.9,686.6 1002.5,689.4 1008.8,694.4 C1015,699.4 1017.8,708.4 1020,715 C1022.2,721.6 1022,727.5 1022,733.8 C1022,740 1022.2,747.8 1020,752.5 C1017.8,757.2 1015.4,758.6 1008.8,762 C1002.2,765.4 985.3,771.2 980.6,773"/>
<ellipse cx="1043.4" cy="741.3" rx="5" ry="6.5" transform="rotate(-15 1043.4 741.3)"/>
<ellipse cx="1043.4" cy="741.3" rx="2.5" ry="3.5" transform="rotate(-15 1043.4 741.3)"/>
<path d="M938,772.6 C938.6,770.6 940,765.2 944,765.4 C948,765.6 959.2,770.6 961.8,773.8 C964.4,777 963,783.8 959.4,784.4 C955.8,785 944,779.3 940.4,777.3 C936.8,775.3 937.4,774.6 938,772.6 Z"/>
<ellipse cx="958" cy="779.7" rx="3.5" ry="5" transform="rotate(-15 958 779.7)"/>
<path d="M963,773.8 C964.4,773.6 967.1,771.6 971.3,772.6 C975.4,773.6 984.9,777.5 987.9,779.7 C990.9,781.9 989.8,783.6 989,785.6 C988.2,787.6 985.7,790.6 983.1,791.6 C980.5,792.6 976.4,791.2 973.6,791.6 C970.8,792 967.7,793.6 966.5,794"/>
<ellipse cx="983.1" cy="785.6" rx="4" ry="5" transform="rotate(-15 983.1 785.6)"/>
<ellipse cx="983.5" cy="786" rx="2" ry="3" transform="rotate(-15 983.5 786)"/>
<path d="M940.4,779.7 C938.4,781.3 930.9,785.8 928.5,789.2 C926.1,792.6 925.9,796.5 926.1,799.9 C926.3,803.3 927.7,807 929.7,809.4 C931.7,811.8 934.2,811.7 938,814.1 C941.8,816.5 948.7,821.4 952.3,823.6 C955.9,825.8 958.2,826.6 959.4,827.2"/>
<ellipse cx="964.1" cy="814.1" rx="9" ry="11" transform="rotate(-15 964.1 814.1)"/>
<ellipse cx="964.6" cy="814.6" rx="5.5" ry="7" transform="rotate(-15 964.6 814.6)"/>
<ellipse cx="922.6" cy="846.2" rx="13" ry="30" transform="rotate(-5 922.6 846.2)"/>
<ellipse cx="924" cy="846" rx="9" ry="21" transform="rotate(-5 924 846)"/>
<ellipse cx="926" cy="845" rx="5" ry="10" transform="rotate(-5 926 845)"/>
<path d="M930.9,847.4 L900,861.6"/>
<path d="M936.8,816.5 L936.8,880.6"/>
<path d="M959.4,828.4 C959.6,833.1 960.2,846.2 960.6,856.9 C961,867.6 961.6,886.6 961.8,892.5"/>
<path d="M972.4,821.3 C972.2,824.2 971.1,833.1 971.3,839 C971.5,844.9 972.8,850.9 973.6,856.9 C974.4,862.9 975.6,869.8 976,874.7 C976.4,879.7 976,884.6 976,886.6"/>
<path d="M976,801 C977.6,799.8 981.3,796 985.5,794 C989.7,792 996.2,791 1001,789.2 C1005.8,787.4 1010.5,785 1014,783.3 C1017.5,781.6 1020.7,779.7 1022,779"/>
<path d="M998.6,789.2 C998.2,791.6 996.8,798.6 996.2,803.4 C995.6,808.1 996,813.1 995,817.7 C994,822.3 991.9,826.2 990.3,830.8 C988.7,835.3 986.7,839.7 985.5,845 C984.3,850.3 983.9,856.9 983.1,862.8 C982.3,868.7 981,874.6 980.8,880.6 C980.6,886.6 980.7,894.1 981.9,898.5 C983.1,902.9 986.9,905.4 987.9,906.8"/>
<path d="M1012.8,807 C1014.8,803.4 1015.8,801.7 1018.8,799.9 C1021.8,798.1 1025.6,797.1 1030.6,796.3 C1035.5,795.5 1044.5,796.5 1048.5,795.1 C1052.5,793.7 1052.4,789.4 1054.4,788 C1056.4,786.6 1058.7,785.6 1060.3,786.8 C1061.9,788 1063.5,789.4 1063.9,795.1 C1064.3,800.9 1063.7,813 1062.7,821.3 C1061.7,829.6 1060,838.1 1058,845 C1056,851.9 1052.8,857.8 1050.8,862.8 C1048.8,867.8 1046.9,871.3 1046.1,874.7 C1045.3,878.1 1046.7,880.4 1046.1,883 C1045.5,885.6 1045.1,888.1 1042.5,890.1 C1039.9,892.1 1034.5,893.1 1030.6,894.9 C1026.6,896.7 1022.8,899.6 1018.8,900.8 C1014.8,902 1010.1,902.4 1006.9,902 C1003.7,901.6 1001.6,901.1 999.8,898.5 C998,895.9 997,891.6 996.2,886.6 C995.4,881.6 995,874.7 995,868.8 C995,862.9 995.2,857 996.2,851 C997.2,845 999.2,838.1 1001,833.1 C1002.8,828.1 1004.9,825.6 1006.9,821.3 C1008.9,816.9 1010.8,810.6 1012.8,807 Z"/>
<path d="M1001,826 C1002.8,821.2 1002.9,819.9 1006.9,816.5 C1010.9,813.1 1018.8,807.8 1024.7,805.8 C1030.6,803.8 1037,803.6 1042.5,804.6 C1048,805.6 1054.6,808 1058,811.8 C1061.4,815.6 1062.3,821.7 1062.7,827.2 C1063.1,832.7 1062.1,839.6 1060.3,845 C1058.5,850.4 1056,855.1 1052,859.3 C1048,863.5 1042.1,867.2 1036.6,870 C1031.1,872.8 1024.3,875.3 1018.8,875.9 C1013.2,876.5 1006.9,875.7 1003.3,873.5 C999.7,871.3 998.6,867.5 997.4,862.8 C996.2,858 995.6,851.1 996.2,845 C996.8,838.9 999.2,830.8 1001,826 Z"/>
<path d="M1036.6,805.8 C1038,806.4 1042.5,806.4 1044.9,809.4 C1047.3,812.4 1050.2,817.7 1050.8,823.6 C1051.4,829.5 1050.3,839.5 1048.5,845 C1046.7,850.5 1044.1,853.7 1040.1,856.9 C1036.1,860.1 1030.6,862.2 1024.7,864 C1018.8,865.8 1007.9,867 1004.5,867.6"/>
<path d="M1034.2,833.1 C1032.6,835.1 1027.1,841 1024.7,845 C1022.3,849 1023,853.9 1020,856.9 C1017,859.9 1009.1,861.8 1006.9,862.8"/>
<ellipse cx="1018.8" cy="807" rx="3.5" ry="4.5"/>
<ellipse cx="1054.4" cy="795.1" rx="3.5" ry="4.5"/>
<ellipse cx="1037.8" cy="884.2" rx="3.5" ry="4.5"/>
<ellipse cx="1002" cy="897.3" rx="3" ry="4"/>
<path d="M1014,835.5 L1055.6,859.3"/>
<path d="M1002,897.3 L1018.8,905.6"/>
<path d="M928.5,886.6 C928.3,888.6 926.9,895.5 927.3,898.5 C927.7,901.5 930.5,901.4 930.9,904.4 C931.3,907.4 930.1,912.3 929.7,916.3 C929.3,920.2 928.3,924.1 928.5,928.1 C928.7,932.1 930.5,938 930.9,940"/>
<ellipse cx="945.1" cy="931.7" rx="12" ry="9"/>
<ellipse cx="945.1" cy="932" rx="6" ry="5"/>
<ellipse cx="966.5" cy="908" rx="10" ry="13" transform="rotate(-15 966.5 908)"/>
<ellipse cx="967" cy="908.5" rx="6" ry="8" transform="rotate(-15 967 908.5)"/>
<ellipse cx="983.1" cy="916.3" rx="5" ry="6" transform="rotate(-15 983.1 916.3)"/>
<path d="M997.4,908 C998.6,908.2 1001.9,909.5 1004.5,909.1 C1007.1,908.7 1011.4,906.2 1012.8,905.6"/>
<path d="M936.8,883 L959.4,891.3"/>
<path d="M929.7,904.4 L940.4,911.5"/>
<path d="M900,896 L927.3,880.6"/>
<path d="M1023.5,750 C1023.1,753 1022.1,763.2 1021.1,767.8 C1020.1,772.3 1018.8,775.1 1017.6,777.3 C1016.4,779.5 1014.6,780.3 1014,780.9"/>
<path d="M1042.5,750 C1044.1,752.8 1049.2,763 1052,766.6 C1054.8,770.2 1056.3,769.8 1059.1,771.4 C1061.9,773 1066.6,774.1 1068.6,776.1 C1070.6,778.1 1071.4,780.7 1071,783.3 C1070.6,785.9 1067.1,790.2 1066.3,791.6"/>
<path d="M1045,771.4 L1056.8,770.2"/>
<path d="M1021.1,785.6 L1030.6,795.1"/>
<path d="M1037.8,779.7 L1042.5,789.2"/>
<path d="M976,767.8 C975.6,766.8 972.8,763.7 973.6,761.9 C974.4,760.1 977.6,758.7 980.8,757.1 C984,755.5 990.6,753.2 992.6,752.4"/>
<path d="M980.8,771.4 C983.2,770.6 989.7,768.6 995,766.6 C1000.3,764.6 1008.4,762.3 1012.8,759.5 C1017.1,756.7 1019.7,751.6 1021.1,750"/>
<path d="M303.8,898.3 C301.9,897.4 295.9,896.8 292.5,893 C289.1,889.2 283.5,880.9 283.5,875.8 C283.5,870.7 288.4,867 292.5,862.3 C296.6,857.6 303.4,849.9 308.3,847.6 C313.2,845.4 317.3,847.1 321.8,848.8 C326.3,850.5 331.9,854.4 335.3,857.8 C338.7,861.2 340.9,867.1 342,869"/>
<ellipse cx="310.5" cy="880.3" rx="20" ry="17" transform="rotate(-20 310.5 880.3)"/>
<ellipse cx="312.8" cy="882.5" rx="15" ry="13" transform="rotate(-20 312.8 882.5)"/>
<ellipse cx="313.5" cy="883" rx="10" ry="9" transform="rotate(-20 313.5 883)"/>
<ellipse cx="314" cy="884" rx="5" ry="5" transform="rotate(-20 314 884)"/>
<path d="M342,869 C345,871.2 351.4,877.6 360,882.5 C368.6,887.4 382.6,893.4 393.8,898.3 C405.1,903.2 416.2,908 427.5,911.8 C438.8,915.5 453.1,919.3 461.3,920.8 C469.6,922.3 473.2,921.9 477,920.8 C480.8,919.7 482.3,917.4 483.8,914 C485.3,910.6 484.5,905.4 486,900.5 C487.5,895.6 489.4,888.5 492.8,884.8 C496.2,881 502.2,878.8 506.3,878 C510.4,877.2 513.8,878.4 517.5,880.3 C521.2,882.2 523.2,886.7 528.8,889.3 C534.4,891.9 543.8,894.7 551.3,896 C558.8,897.3 567,896.2 573.8,897 C580.5,897.8 586.2,898.4 591.8,900.5 C597.4,902.6 603.8,905 607.5,909.5 C611.2,914 614.3,921.9 614.3,927.5 C614.3,933.1 611.2,939.2 607.5,943.3 C603.8,947.4 597.4,951.5 591.8,952.3 C586.2,953 576.8,948.5 573.8,947.8"/>
<path d="M328.5,875.8 C330,877.7 330.4,882.5 337.5,887 C344.6,891.5 360.1,897.5 371.3,902.8 C382.6,908 393.8,914 405,918.5 C416.2,923 427.6,927.5 438.8,929.8 C450.1,932 463.1,932.8 472.5,932 C481.9,931.2 489,926.4 495,925.3 C501,924.2 505.1,923.4 508.5,925.3 C511.9,927.2 515.3,932.4 515.3,936.5 C515.3,940.6 511.9,946.6 508.5,950 C505.1,953.4 497.2,955.8 495,957"/>
<path d="M333,880.3 C339.4,883.3 359.3,892.8 371.3,898.3 C383.3,903.8 393.8,908.9 405,913 C416.2,917.1 427.6,920.6 438.8,923 C450.1,925.4 466.9,926.8 472.5,927.5"/>
<path d="M303.8,898.3 C307.6,898.7 318.8,899 326.3,900.5 C333.8,902 339.4,902.8 348.8,907.3 C358.2,911.8 371.2,920.4 382.5,927.5 C393.8,934.6 405.1,943.6 416.3,950 C427.6,956.4 438.8,962 450,965.8 C461.2,969.5 474.4,972.1 483.8,972.5 C493.2,972.9 498.8,971.8 506.3,968 C513.8,964.2 522.4,956 528.8,950 C535.2,944 538.9,935.4 544.5,932 C550.1,928.6 559.5,930.2 562.5,929.8"/>
<ellipse cx="501.8" cy="902.8" rx="13.5" ry="17" transform="rotate(-15 501.8 902.8)"/>
<ellipse cx="502.5" cy="903.5" rx="9" ry="12" transform="rotate(-15 502.5 903.5)"/>
<ellipse cx="503" cy="904" rx="5" ry="7" transform="rotate(-15 503 904)"/>
<ellipse cx="580.5" cy="927.5" rx="14" ry="18" transform="rotate(-15 580.5 927.5)"/>
<ellipse cx="581" cy="928" rx="9" ry="12" transform="rotate(-15 581 928)"/>
<ellipse cx="581.5" cy="928.5" rx="5" ry="6" transform="rotate(-15 581.5 928.5)"/>
<path d="M528.8,905 C534,903.1 557.2,906.5 562.5,909.5 C567.8,912.5 564,920.4 560.3,923 C556.5,925.6 544.9,925.7 540,925.3 C535.1,924.9 532.9,924.2 531,920.8 C529.1,917.4 523.5,906.9 528.8,905 Z"/>
<path d="M576,932 L558,941"/>
<path class="d" d="M558,941 L558,963.5 L551.3,968"/>
<ellipse cx="492.8" cy="1001.8" rx="14" ry="20" transform="rotate(-15 492.8 1001.8)"/>
<ellipse cx="486" cy="1006.3" rx="9" ry="10"/>
<path d="M508.5,990.5 L544.5,968"/>
<path d="M513,1004 L549,979.3"/>
<path d="M544.5,968 C545.2,968.5 548.2,969.1 549,971 C549.8,972.9 549,977.9 549,979.3"/>
<path class="t" d="M525.6,993.9 C525.3,992.8 525.1,989.1 523.9,987.3 C522.7,985.4 519.4,983.8 518.4,983.1"/>
<path class="t" d="M531.3,990.2 C531,989.1 530.8,985.3 529.7,983.5 C528.5,981.7 525.1,980 524.2,979.3"/>
<path class="t" d="M537.1,986.4 C536.8,985.3 536.6,981.6 535.4,979.8 C534.2,977.9 530.9,976.3 529.9,975.6"/>
<path class="t" d="M542.8,982.7 C542.5,981.6 542.3,977.8 541.2,976 C540,974.2 536.6,972.5 535.7,971.8"/>
<path class="t" d="M548.6,978.9 C548.3,977.8 548.1,974.1 546.9,972.3 C545.7,970.4 542.4,968.8 541.4,968.1"/>
<ellipse cx="562" cy="1081.8" rx="12.4" ry="10.9" transform="rotate(-15 562 1081.8)"/>
<ellipse cx="561" cy="1081.5" rx="4.5" ry="4" transform="rotate(-15 561 1081.5)"/>
<path d="M558,1065 C559.5,1064.8 563.8,1062.5 567,1063.5 C570.2,1064.5 575.6,1068.5 577.5,1071 C579.4,1073.5 578.9,1075.7 578.3,1078.5 C577.7,1081.3 574.7,1086.4 574,1088"/>
<path d="M567,1063.5 L568,1072 L577.5,1071"/>
<path d="M561,1083 L550.5,1100.3"/>
<path d="M507,1113 C508,1111.5 509.5,1106.2 513,1104 C516.5,1101.8 523,1099.9 528,1099.5 C533,1099.1 538.8,1100.3 543,1101.8 C547.2,1103.3 551,1106.1 553.5,1108.5 C556,1110.9 557.2,1114.8 558,1116"/>
<path d="M510,1110 C511.7,1109 515.8,1105.1 520,1104 C524.2,1102.9 530.3,1103 535,1103.5 C539.7,1104 544.7,1105.2 548,1107 C551.3,1108.8 553.8,1113.2 555,1114.5"/>
<ellipse cx="525" cy="1135.5" rx="24.4" ry="21.8" transform="rotate(-10 525 1135.5)"/>
<ellipse cx="526.5" cy="1135.5" rx="18" ry="17" transform="rotate(-10 526.5 1135.5)"/>
<ellipse cx="526.5" cy="1137" rx="10.5" ry="9" transform="rotate(-10 526.5 1137)"/>
<path d="M529.5,1132.5 L504,1172.3"/>
<path d="M558,1116 C561.2,1118 570.5,1124.5 577.5,1128 C584.5,1131.5 591.2,1134 600,1137 C608.8,1140 620,1143.2 630,1146 C640,1148.8 651.7,1151.9 660,1153.5 C668.3,1155.1 667.9,1153.2 680,1155.8 C692.1,1158.4 711.5,1164.6 732.5,1169 C753.5,1173.4 788.5,1179.8 806,1182 C823.5,1184.2 828,1182.4 837.6,1182 C847.2,1181.6 855.9,1180.6 863.8,1179.5 C871.7,1178.4 878.7,1175.1 884.8,1175.5 C890.9,1175.9 896.2,1179.2 900.6,1182 C905,1184.8 908.8,1188.2 911,1192.6 C913.2,1197 913.7,1203.2 913.7,1208.4 C913.7,1213.6 912.8,1220.1 911,1224 C909.2,1227.9 906.7,1230 903.2,1232 C899.7,1234 892.2,1235.3 890,1236"/>
<path d="M555,1120.5 C558.8,1122.8 570,1130.2 577.5,1134 C585,1137.8 591.2,1139.5 600,1143 C608.8,1146.5 620,1151.8 630,1155 C640,1158.2 651.7,1160.2 660,1162.5 C668.3,1164.8 667.9,1166.2 680,1169 C692.1,1171.8 711.5,1175.6 732.5,1179.5 C753.5,1183.4 788.5,1190.4 806,1192.6 C823.5,1194.8 826.2,1193.2 837.6,1192.6 C849,1191.9 865.6,1189.3 874.3,1188.7 C883,1188.1 885.2,1188.1 890,1188.7 C894.8,1189.3 899.7,1190.2 903.2,1192.6 C906.7,1195 909.7,1201.3 911,1203"/>
<path d="M874.3,1180.8 L874.3,1186"/>
<path d="M520.5,1155 C522.5,1155.5 526.8,1157.8 532.5,1158 C538.2,1158.2 547.5,1157 555,1156.5 C562.5,1156 571.2,1155 577.5,1155 C583.8,1155 586.2,1155 592.5,1156.5 C598.8,1158 606.2,1161.5 615,1164 C623.8,1166.5 634.2,1169.4 645,1171.5 C655.8,1173.6 665.4,1173.7 680,1176.8 C694.6,1179.9 712.8,1185.6 732.5,1190 C752.2,1194.4 782.9,1199.5 798.2,1203 C813.5,1206.5 817,1208.3 824.4,1211 C831.8,1213.7 837.1,1216.3 842.8,1218.9 C848.5,1221.5 854.2,1224.5 858.6,1226.7 C863,1228.9 867.3,1231.1 869,1232"/>
<ellipse cx="884.8" cy="1215" rx="21.7" ry="21"/>
<ellipse cx="886" cy="1215" rx="16" ry="16"/>
<ellipse cx="882.2" cy="1215" rx="10" ry="9"/>
<path class="d" d="M945,945 L945,978 L886.1,980 L886.1,1171.6"/>
<path d="M886,1208.4 L886,1245"/>
<path d="M881,1252 L881,1297.6 L883,1311"/>
<path d="M891,1252 L891,1297.6 L889,1311"/>
<path d="M881,1252 C881.8,1251.5 884.3,1249 886,1249 C887.7,1249 890.2,1251.5 891,1252"/>
<path class="t" d="M881,1257 C881.8,1256.6 884.3,1254.5 886,1254.5 C887.7,1254.5 890.2,1256.6 891,1257"/>
<path class="t" d="M881,1263 C881.8,1262.6 884.3,1260.5 886,1260.5 C887.7,1260.5 890.2,1262.6 891,1263"/>
<path class="t" d="M881,1269 C881.8,1268.6 884.3,1266.5 886,1266.5 C887.7,1266.5 890.2,1268.6 891,1269"/>
<path class="t" d="M881,1275 C881.8,1274.6 884.3,1272.5 886,1272.5 C887.7,1272.5 890.2,1274.6 891,1275"/>
<path class="t" d="M881,1281 C881.8,1280.6 884.3,1278.5 886,1278.5 C887.7,1278.5 890.2,1280.6 891,1281"/>
<path class="t" d="M881,1287 C881.8,1286.6 884.3,1284.5 886,1284.5 C887.7,1284.5 890.2,1286.6 891,1287"/>
<path class="t" d="M881,1293 C881.8,1292.6 884.3,1290.5 886,1290.5 C887.7,1290.5 890.2,1292.6 891,1293"/>
<path d="M863.8,1318.7 C866.9,1316 879.6,1308.5 887.5,1308 C895.4,1307.5 908.4,1312.9 911,1316 C913.6,1319.1 907.4,1324.5 903.2,1326.5 C899,1328.5 891.7,1328.4 886,1328 C880.3,1327.6 872.7,1325.5 869,1324 C865.3,1322.5 860.7,1321.4 863.8,1318.7 Z"/>
<path d="M878,1318 L886,1314 L894,1318 L894,1328 L886,1334.4 L878,1330 Z"/>
<ellipse cx="473.5" cy="1221" rx="13" ry="12" transform="rotate(-10 473.5 1221)"/>
<path d="M466,1216 L472,1211 L480,1213 L482,1222 L477,1229 L468,1227 Z"/>
<path d="M472,1211 L474,1219 L482,1222"/>
<path d="M474,1219 L470,1228"/>
<path d="M475.5,1210.5 L498,1174.5"/>
<path d="M486,1213.5 L505.5,1179"/>
<path d="M498,1174.5 C498.8,1174.6 501.8,1174.2 503,1175 C504.2,1175.8 505.1,1178.3 505.5,1179"/>
<path class="t" d="M494.6,1199 C494,1198.2 492.6,1195.4 491,1194.4 C489.5,1193.4 486.3,1193.3 485.4,1193"/>
<path class="t" d="M496.9,1195.4 C496.3,1194.6 494.9,1191.8 493.3,1190.8 C491.8,1189.8 488.6,1189.7 487.7,1189.4"/>
<path class="t" d="M499.2,1191.8 C498.6,1191 497.2,1188.2 495.6,1187.2 C494.1,1186.2 490.9,1186.1 490,1185.8"/>
<path class="t" d="M501.5,1188.2 C500.9,1187.4 499.5,1184.6 497.9,1183.6 C496.4,1182.6 493.2,1182.5 492.3,1182.2"/>
<path class="t" d="M503.8,1184.6 C503.2,1183.8 501.8,1181 500.2,1180 C498.7,1179 495.5,1178.9 494.6,1178.6"/>
<path class="t" d="M506.1,1181 C505.5,1180.2 504.1,1177.4 502.5,1176.4 C501,1175.4 497.8,1175.3 496.9,1175"/>
</g>
<g fill="none" stroke="#000" stroke-width="2" stroke-linecap="round" stroke-linejoin="round">
<!-- left bushing sleeve outer + arm upper edge -->
<path d="M867.8,417.3 C865.5,410 865.5,401 868.5,395 C871,390 876,387 882,385.8 C886,384 892,383.5 897,385.8 C902,388 906,392 909,398 C912,403 914,408 915,413.5 C915.5,416 915.6,418 915.6,420 C916.5,424 917,427 918.3,429.8 C920,433 922,436 925,438.8 L940,452.3 L955,465 L970,478.5 L1000,502.5 L1077,562.4 C1090,570 1104,580 1116.9,586 C1124,590 1130,592 1137.2,594.1 C1143,596 1148,598 1153.4,601.4 C1158,604 1162,607 1165.6,612 C1169,617 1172,621 1173,625 C1174.5,630 1174.5,634 1173.7,638 C1173,642 1172,644 1169.7,646 C1167,649 1164,651.5 1161.5,653.4 C1158,655.5 1156,656.5 1153.4,656.7 C1151,657 1148.5,657 1146,655.9 C1143,654.5 1140,652.5 1137.2,650.2 C1135,648.5 1133.5,646 1132.3,643.7"/>
<!-- middle line -->
<path d="M884,387.5 C891,388.5 897,393 900.5,400 C903,406 904,413 904,420 C904.8,424 905.5,427.5 907,430.5 C909,435 911,438.5 913.8,441.8 C917,445.5 921,450 925,453.8 L940,467.3 L955,478.5 L977.5,497.3 L1000,516 L1070.6,570.6"/>
<path d="M1079.5,577 C1087,581 1094,585 1100.6,587.6 C1112,593 1123,598 1133,602 C1137.5,603.5 1141.5,605 1145.3,607 C1149.5,609.5 1153,612 1155.9,615.2 C1159,618.5 1161.5,621.5 1163.2,625 C1165.5,630 1166,636 1165.6,641.2 C1165,645 1163,648 1161,650"/>
<!-- lower line -->
<path d="M873.8,429.3 C876,432.5 878,435.5 880,437.3 L895,446.3 L913.8,460.5 L932.5,477 L947.5,489 L966.3,503.3 L986.5,520 L1072.2,583.6"/>
<path d="M1081.5,590 C1088,595 1094,600 1100.6,605.5 C1106,611 1111.5,617 1116.9,623.4 C1120,627.5 1123.5,632 1126.6,636.4"/>
<!-- left front face ellipse (broken for axis) -->
<path d="M869,408 C868.5,404 870,400 873.8,397 C876,395.5 878,394.8 879.8,394.8 C882,394.5 884.5,395 886.5,396.3 C889,398 891,399.5 892.5,401.5 C894.5,404 896,407 897,409.8 C898.5,413 899.3,416 899.3,418.8 C899.5,423 899,426.5 897.8,429.3 C896.5,432 894.5,434 892.5,435.3 C890.5,436.5 888.5,437.1 886.5,437.1 C884,437.2 882,436.5 879.8,435.3 C877.5,434 875.5,432 873.8,429.3 C873,428 872,426.5 871.5,425.5"/>
<path d="M875,396.5 C877,393.5 881,392.5 884,393 C888,393.5 892,396 895,400 C898.5,404.5 900.5,410 901.2,416 C901.8,421 901,426 899,430 C897,433.5 894,436 890.5,437"/>
<!-- left sleeve rings -->
<path d="M882,386.5 C888,386 894,389 899,394 C904,399 907,405 909,412 L910,416"/>
<path d="M885,385 C891,385 897,388.5 902,394 C906,399 909,405 910.5,411"/>
<path d="M906,407.5 L908.3,414.3"/>
<!-- left inner hole -->
<path d="M875.3,413.5 C875.5,410 877.5,407 880.5,406 C883.5,405.5 886.5,408 888,412 C889.5,416 889.5,420 888.8,422.5 C888,425.5 886.5,427 884.3,427.4 C882,427.8 880,426 878.3,423.3"/>
<!-- left axis -->
<path d="M882,416.5 L850.5,430"/>
<!-- right front face -->
<path d="M1125,625 C1125,621 1126.5,617.5 1129,615.2 C1131,613 1133,611.5 1135.5,610.8 C1139,610 1142.5,611 1145.3,612.8 C1148.5,615 1151.5,618 1153.4,621.7 C1155.5,625.5 1156.7,629 1156.7,633.1 C1157,637.5 1156.5,641.5 1155,645.3 C1153.5,648.5 1151.5,650.5 1149.4,651.8 C1146.5,653 1144,652.5 1141.2,651 C1138,649.5 1135,647 1133.1,644.5 C1132.5,643.5 1131.5,642.5 1131,641.5"/>
<path d="M1135,610.5 C1139,609 1143.5,610 1147,612.5 C1151,615.5 1154.5,619.5 1156.5,624 C1158.5,628.5 1159,633 1158.8,637.5 C1158.5,642 1157,646 1155,649 C1153,651.5 1150.5,652.8 1148,653"/>
<path d="M1156,612 C1161,616 1165,622 1167.5,628 C1169.5,633 1170,638 1169.5,642.5"/>
<path d="M1161.5,613.5 C1165.5,617 1169,622 1171,628 C1172.5,633 1172.5,638 1171.5,643"/>
<!-- right inner hole -->
<path d="M1132.3,627.4 C1132.5,624 1134.5,622 1137.2,621.7 C1140,621.3 1142.5,622.5 1143.7,624.2 C1146,627 1147.7,631 1147.7,635.5 C1147.7,639 1146.5,641.5 1144.5,642 C1142,642.8 1139.5,641 1138,638.8"/>
<!-- right axis -->
<path d="M1143.7,629.5 L1108.7,655.9"/>
<!-- small tick -->
<path d="M1136,597 L1133,598.5"/>
</g>
<g fill="#e10005">
<path fill-rule="evenodd" d="M1163.8,719.5 L1178.8,672.3 Q1180,669 1183,669 L1193,669 Q1196,669 1197.3,672.5 L1211.4,719.5 L1201.3,719.5 L1197.1,705.6 L1177.6,705.6 L1173.5,719.5 Z M1187.4,677.1 L1181.4,696.6 L1193.8,696.6 Z"/>
<path d="M1220.1,668.5 L1230.2,668.5 L1230.2,719.5 L1220.1,719.5 Z M1231.1,693.6 L1244.6,668.9 L1255.5,668.9 L1242,693.6 L1256.3,719.5 L1244.6,719.5 Z"/>
<rect x="1266" y="692.9" width="18.7" height="8.9"/>
<path d="M1295.3,668.5 L1316.4,668.5 C1323.7,668.5 1329.4,673 1329.4,680 L1329.4,684 C1329.4,690 1325,693.5 1318,696 L1309,699.5 C1306,700.8 1304.9,702.5 1304.9,705 L1304.9,711.2 L1328,711.2 L1328,719.7 L1293.9,719.7 L1293.9,704 C1293.9,697 1298,693.5 1305,691 L1315,687.8 C1318.5,686.5 1319.2,684.5 1319.2,682.6 L1319.2,680 C1319.2,677.8 1318,676.5 1315.5,676.5 L1295.3,676.4 Z"/>
<path d="M1338.7,668.5 L1369.9,668.5 C1372.5,668.5 1373.5,670 1373.5,672 C1373.5,673.5 1373.2,674.5 1372.7,675.5 L1349.6,719.7 L1339.5,719.7 L1362.6,676.9 L1338.7,676.9 Z"/>
<path d="M1381.3,668.9 L1417.8,668.9 L1417.8,676.8 L1391.6,676.8 L1391.6,688.4 L1407.5,688.4 C1415.5,688.4 1420.6,694 1420.6,703 L1420.6,705 C1420.6,714 1415,719.9 1406,719.9 L1381.3,719.9 L1381.3,711.3 L1405.6,711.3 C1408.5,711.3 1409.8,708.5 1409.8,705 L1409.8,702.5 C1409.8,698.8 1408.3,696.6 1405.6,696.6 L1381.3,696.6 Z"/>
</g>
<g fill="#f6b1af">
<g transform="translate(-230,509.2)">
<path fill-rule="evenodd" d="M1163.8,719.5 L1178.8,672.3 Q1180,669 1183,669 L1193,669 Q1196,669 1197.3,672.5 L1211.4,719.5 L1201.3,719.5 L1197.1,705.6 L1177.6,705.6 L1173.5,719.5 Z M1187.4,677.1 L1181.4,696.6 L1193.8,696.6 Z"/>
<path d="M1220.1,668.5 L1230.2,668.5 L1230.2,719.5 L1220.1,719.5 Z M1231.1,693.6 L1244.6,668.9 L1255.5,668.9 L1242,693.6 L1256.3,719.5 L1244.6,719.5 Z"/>
<rect x="1266" y="692.9" width="18.7" height="8.9"/>
<path d="M1295.3,668.5 L1316.4,668.5 C1323.7,668.5 1329.4,673 1329.4,680 L1329.4,684 C1329.4,690 1325,693.5 1318,696 L1309,699.5 C1306,700.8 1304.9,702.5 1304.9,705 L1304.9,711.2 L1328,711.2 L1328,719.7 L1293.9,719.7 L1293.9,704 C1293.9,697 1298,693.5 1305,691 L1315,687.8 C1318.5,686.5 1319.2,684.5 1319.2,682.6 L1319.2,680 C1319.2,677.8 1318,676.5 1315.5,676.5 L1295.3,676.4 Z"/>
<path d="M1338.7,668.5 L1369.9,668.5 C1372.5,668.5 1373.5,670 1373.5,672 C1373.5,673.5 1373.2,674.5 1372.7,675.5 L1349.6,719.7 L1339.5,719.7 L1362.6,676.9 L1338.7,676.9 Z"/>
</g>
<path fill-rule="evenodd" d="M1149.2,1218.1 L1149.2,1205.8 L1171.1,1178 L1185.6,1178 L1185.6,1210.3 L1189.7,1210.3 L1189.7,1218.1 L1185.6,1218.1 L1185.6,1228.2 L1175.6,1228.2 L1175.6,1218.1 Z M1175.3,1190 L1159.9,1209.9 L1175.3,1209.9 Z"/>
</g>
</svg>
</body></html>
